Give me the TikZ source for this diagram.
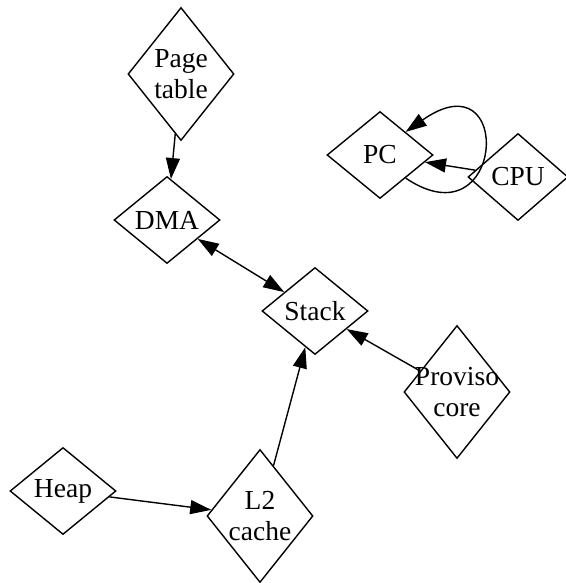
\documentclass[tikz,border=0pt]{standalone}
\usepackage{fontspec}
\setmainfont{Liberation Serif}
\usetikzlibrary{shapes.geometric,arrows.meta}
\tikzset{
  dia/.style={diamond, draw, line width=1.4pt, inner sep=0pt, minimum width=106pt, minimum height=87pt},
  tall/.style={minimum height=133pt},
  txt/.style={font=\fontsize{27.5}{31}\selectfont, align=center, inner sep=0pt},
  arr/.style={line width=1.4pt, -{Triangle[length=21pt,width=14pt]}},
  darr/.style={line width=1.4pt, {Triangle[length=21pt,width=14pt]}-{Triangle[length=21pt,width=14pt]}}
}
\begin{document}
\begin{tikzpicture}[x=1pt,y=-1pt]
\useasboundingbox (0,0) rectangle (565,583);
\node[dia,tall,label={[txt]center:Page\\table}] (pt) at (181,74) {};
\node[dia,label={[txt]center:DMA}] (dma) at (167,220) {};
\node[dia,label={[txt]center:Stack}] (stack) at (315,311) {};
\node[dia,label={[txt]center:PC}] (pc) at (380,155) {};
\node[dia,minimum width=100pt,label={[txt]center:CPU}] (cpu) at (518,177) {};
\node[dia,tall,label={[txt]center:Proviso\\core}] (prov) at (457,392) {};
\node[dia,label={[txt]center:Heap}] (heap) at (63,491) {};
\node[dia,tall,label={[txt]center:L2\\cache}] (l2) at (260,516) {};

\draw[arr] (pt) -- (dma);
\draw[darr] (dma) -- (stack);
\draw[arr] (heap) -- (l2);
\draw[arr] (l2) -- (stack);
\draw[arr] (prov) -- (stack);
\draw[arr] (cpu) -- (pc);
\draw[arr] (pc.-42) .. controls (505,245) and (515,55) .. (pc.42);
\end{tikzpicture}
\end{document}
